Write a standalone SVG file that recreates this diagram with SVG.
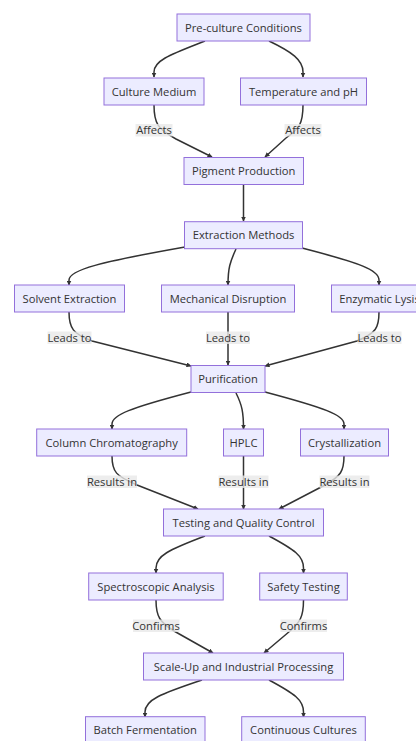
<svg xmlns="http://www.w3.org/2000/svg" width="416" height="741" viewBox="0 0 416 741">
<defs>
<marker id="arr" viewBox="0 0 10 10" refX="9" refY="5" markerWidth="5" markerHeight="5" markerUnits="userSpaceOnUse" orient="auto">
<path d="M0,0 L10,5 L0,10 z" fill="#333333"/>
</marker>
<style>
.node rect{fill:#ECECFF;stroke:#9370DB;stroke-width:1}
.node text{font-family:"Open Sans","Liberation Sans",sans-serif;font-size:11.2px;fill:#333333;text-anchor:middle}
.edges path{fill:none;stroke:#333333;stroke-width:1.5;marker-end:url(#arr)}
.lbl rect{fill:#e8e8e8;opacity:0.8}
.lbl text{font-family:"Open Sans","Liberation Sans",sans-serif;font-size:11.2px;fill:#333333;text-anchor:middle}
</style>
</defs>
<rect width="416" height="741" fill="#ffffff"/>
<g class="edges">
<path d="M205,41 C172,54 154,60 154,72 L154,77"/>
<path d="M269,41 C292,52 303,60 303,72 L303,77"/>
<path d="M154,105 C154,124 158,129 176,139 L212,157"/>
<path d="M303,105 C303,124 299,129 286,138 L265,157"/>
<path d="M243.5,185 L243.5,221"/>
<path d="M185,247 C100,262 69,270 69,280 L69,285"/>
<path d="M236,249 C230,262 228,268 228,285"/>
<path d="M302,248 C360,263 379,270 379,280 L379,285"/>
<path d="M69,312 C69,328 73,334 92,341 L191,366"/>
<path d="M228,312 L228,365"/>
<path d="M379,312 C379,328 376,333 357,341 L265,366"/>
<path d="M191,392 C130,408 112,415 112,424 L112,429"/>
<path d="M236,393 C242,405 243.5,412 243.5,429"/>
<path d="M265,392 C325,408 344,415 344,424 L344,429"/>
<path d="M112,456 C112,472 116,476 137,485 L198,509"/>
<path d="M243.5,456 L243.5,509"/>
<path d="M344,456 C344,471 341,476 325,485 L279,509"/>
<path d="M205,536 C168,550 156,556 156,568 L156,573"/>
<path d="M269,536 C295,550 303.5,556 303.5,568 L303.5,573"/>
<path d="M156,600 C156,617 160,622 174,631 L213,653"/>
<path d="M303.5,600 C303.5,617 300,622 290,631 L264,653"/>
<path d="M202,680 C160,694 145,700 145,712 L145,717"/>
<path d="M269,680 C295,694 303.5,700 303.5,712 L303.5,717"/>
</g>
<g class="lbl">
<rect x="135.5" y="124" width="37" height="12.5"/><text x="154" y="134">Affects</text>
<rect x="284.5" y="124" width="37" height="12.5"/><text x="303" y="134">Affects</text>
<rect x="47.5" y="331.5" width="44" height="12.5"/><text x="69.5" y="341.5">Leads to</text>
<rect x="206" y="331.5" width="44" height="12.5"/><text x="228" y="341.5">Leads to</text>
<rect x="357.5" y="331.5" width="44" height="12.5"/><text x="379.5" y="341.5">Leads to</text>
<rect x="87" y="475.5" width="50" height="12.5"/><text x="112" y="485.5">Results in</text>
<rect x="218.5" y="475.5" width="50" height="12.5"/><text x="243.5" y="485.5">Results in</text>
<rect x="319.5" y="475.5" width="50" height="12.5"/><text x="344.5" y="485.5">Results in</text>
<rect x="133" y="619.5" width="46.5" height="12.5"/><text x="156" y="629.5">Confirms</text>
<rect x="280.5" y="619.5" width="46.5" height="12.5"/><text x="303.5" y="629.5">Confirms</text>
</g>
<g id="n-preculture" class="node"><rect x="177" y="14" width="133" height="27"/><text x="243.5" y="31.5">Pre-culture Conditions</text></g>
<g id="n-medium" class="node"><rect x="104" y="78" width="100" height="27"/><text x="154" y="95.5">Culture Medium</text></g>
<g id="n-temp" class="node"><rect x="240.5" y="78" width="126" height="27"/><text x="303.5" y="95.5">Temperature and pH</text></g>
<g id="n-pigment" class="node"><rect x="184" y="157.5" width="119.5" height="27"/><text x="243.7" y="175">Pigment Production</text></g>
<g id="n-extraction" class="node"><rect x="184.5" y="221.7" width="118" height="27"/><text x="243.5" y="239.2">Extraction Methods</text></g>
<g id="n-solvent" class="node"><rect x="14.5" y="285" width="110" height="27"/><text x="69.5" y="302.5">Solvent Extraction</text></g>
<g id="n-mechanical" class="node"><rect x="161.5" y="285" width="133" height="27"/><text x="228" y="302.5">Mechanical Disruption</text></g>
<g id="n-enzymatic" class="node"><rect x="331.5" y="285" width="96" height="27"/><text x="379.5" y="302.5">Enzymatic Lysis</text></g>
<g id="n-purification" class="node"><rect x="191" y="365.5" width="74" height="27"/><text x="228" y="383">Purification</text></g>
<g id="n-column" class="node"><rect x="36.7" y="429" width="150" height="27"/><text x="111.7" y="446.5">Column Chromatography</text></g>
<g id="n-hplc" class="node"><rect x="223.5" y="429" width="40" height="27"/><text x="243.5" y="446.5">HPLC</text></g>
<g id="n-crystal" class="node"><rect x="300.5" y="429" width="88" height="27"/><text x="344.5" y="446.5">Crystallization</text></g>
<g id="n-testing" class="node"><rect x="163.5" y="509" width="160" height="27"/><text x="243.5" y="526.5">Testing and Quality Control</text></g>
<g id="n-spectro" class="node"><rect x="88.7" y="573" width="134.5" height="27"/><text x="156" y="590.5">Spectroscopic Analysis</text></g>
<g id="n-safety" class="node"><rect x="259.7" y="573" width="87.6" height="27"/><text x="303.5" y="590.5">Safety Testing</text></g>
<g id="n-scaleup" class="node"><rect x="143.5" y="653" width="200" height="27"/><text x="243.5" y="670.5">Scale-Up and Industrial Processing</text></g>
<g id="n-batch" class="node"><rect x="85.5" y="716.7" width="119.5" height="27"/><text x="145.2" y="734.2">Batch Fermentation</text></g>
<g id="n-continuous" class="node"><rect x="241.7" y="716.7" width="123.6" height="27"/><text x="303.5" y="734.2">Continuous Cultures</text></g>
</svg>
